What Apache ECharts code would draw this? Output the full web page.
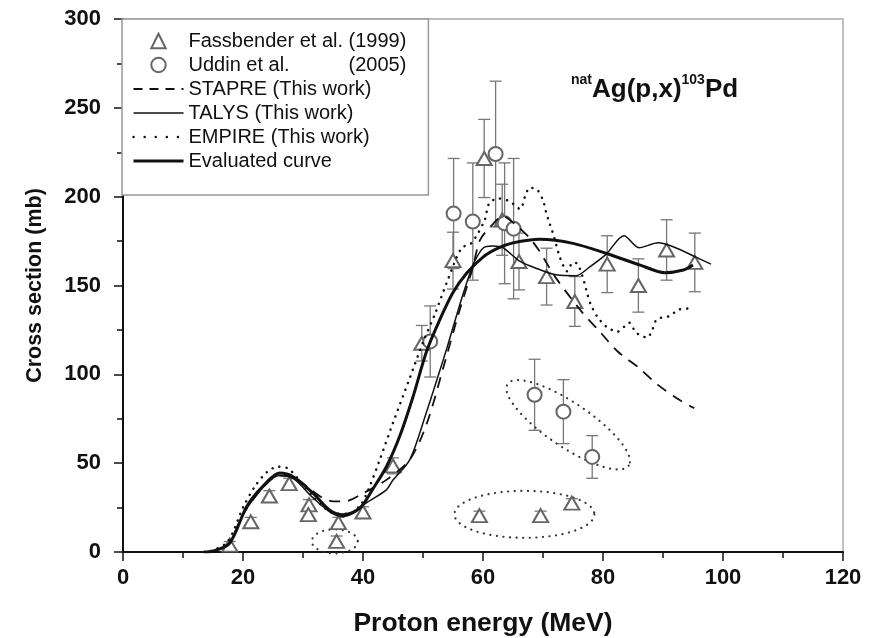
<!DOCTYPE html>
<html><head><meta charset="utf-8">
<script src="https://cdn.jsdelivr.net/npm/echarts@6/dist/echarts.min.js"></script>
<style>html,body{margin:0;padding:0;background:#fff}#chart{width:882px;height:638px}</style>
</head><body><div id="chart"></div>
<script>
const FONT = '"Liberation Sans", Arial, sans-serif';

// Axis ticks
const xTicks = [0, 20, 40, 60, 80, 100, 120];
const yTicks = [0, 50, 100, 150, 200, 250, 300];

const seriesNames = ['Fassbender et al. (1999)', 'Uddin et al. (2005)', 'STAPRE (This work)', 'TALYS (This work)', 'EMPIRE (This work)', 'Evaluated curve'];

// Fassbender et al. (1999)
const fassX = [17.8, 21.3, 24.4, 27.7, 31.0, 30.9, 35.9, 35.6, 40.0, 45.0, 49.8, 55.0, 60.2, 63.2, 66.0, 70.6, 75.3, 80.7, 85.9, 90.6, 95.3, 59.4, 69.6, 74.8];
const fassY = [3.9, 17.0, 31.5, 38.5, 26.5, 21.0, 16.5, 6.0, 22.5, 48.5, 117.5, 164, 221.5, 187, 163.5, 155, 141, 162, 150, 170, 163, 20.5, 20.5, 27.5];
const fassErr = [2, 2.5, 3, 3, 3, 3, 3, 3, 3, 4.5, 10, 16, 22, 20, 16, 16, 14, 16, 15, 17, 16.5, 2.5, 2.5, 2.5];

// Uddin et al. (2005)
const uddX = [51.2, 55.1, 58.3, 62.1, 63.6, 65.1, 68.6, 73.4, 78.2];
const uddY = [118.5, 190.5, 186, 224, 185, 182, 88.5, 79, 53.5];
const uddErr = [20, 31, 33, 41, 34, 39.5, 20, 18, 12];

// Model curves
const stapreX = [13.5, 15, 17.5, 20, 23, 26, 28.5, 31, 33, 35, 37, 40, 43.9, 47.8, 50.6, 53.4, 56, 58.3, 59.5, 61.5, 63.3, 65.5, 67.7, 69.4, 72, 76.6, 79.4, 82.4, 86, 89.1, 92.7, 95.2];
const stapreY = [0, 0.5, 4, 21, 35, 43, 42, 36, 31, 28.5, 28.5, 33, 40.6, 52, 72, 104, 135, 160, 175.6, 184, 189, 184, 177, 169.4, 155, 134.6, 124.3, 113, 103.6, 94.2, 85.7, 81];

const talysX = [13.5, 15, 17.5, 20, 23, 26, 28.5, 31.5, 34.5, 36.7, 38.5, 40.5, 43.9, 45, 47.8, 50.6, 52.7, 54, 56.2, 57.8, 58.5, 60, 61.6, 63.3, 66.1, 69.4, 72.2, 75.5, 77.8, 80.5, 83.5, 86, 89.2, 91.7, 95.6, 98];
const talysY = [0, 0.5, 4, 21, 35, 43, 41, 31, 22.5, 20, 22, 27.5, 35, 40.5, 52, 79, 101, 115, 140, 156.8, 163, 171, 172.2, 171.3, 163.7, 159, 156, 155.5, 160.5, 167.5, 178, 171.3, 174, 171.8, 165.8, 162];

const empireX = [13.5, 15, 17.5, 20, 22, 24, 25.8, 27.5, 29.5, 31.5, 33.5, 35.5, 37.5, 39.5, 41, 42.8, 45, 47.8, 50, 52, 54, 56.4, 58.1, 60.3, 61, 62.5, 64, 65, 66.2, 67, 67.8, 69, 70, 70.5, 71, 71.6, 72.2, 72.7, 73.4, 74, 75, 75.8, 76.9, 77.4, 78, 79, 80.5, 82.4, 84.4, 85.5, 87.4, 88.2, 89, 91, 92.7, 94.3];
const empireY = [0, 1, 6, 25, 37, 45, 48, 47, 40, 32, 25, 21.5, 21.5, 26, 36, 52, 72.7, 98, 118, 134, 152, 171, 174, 187, 196, 199, 198, 196, 193, 200, 205, 204, 198, 191.5, 186, 180, 173, 167, 161, 158, 163, 162, 151.6, 145, 139, 132.7, 127, 124, 129, 123.5, 120.7, 125, 131, 132.7, 136.5, 137];

const evalX = [13.5, 15, 17.8, 20.6, 23.3, 26.1, 28.3, 31.7, 34.4, 36.7, 39.4, 41.7, 43.9, 46.1, 48.3, 50.6, 52.7, 55, 57.3, 60, 62.5, 65, 69.5, 75, 80.6, 86.2, 90.3, 93.4, 95];
const evalY = [0, 0.5, 5, 25.5, 37, 44.5, 42.5, 33, 23.7, 21, 24.5, 35.8, 48, 65, 87, 113, 130, 146, 157, 166, 171, 174, 176, 173.7, 168, 161.5, 157.2, 158.7, 161.5];

// Dotted ellipse annotation centres (data units)
const ellipseX = [35.3, 74.2, 66.9];
const ellipseY = [6, 71.6, 21.2];

const zip = (xs, ys) => xs.map((x, i) => [x, ys[i]]);
const errData = (xs, ys, es) => xs.map((x, i) => [x, ys[i] - es[i], ys[i] + es[i]]);

function errRender(params, api) {
  const x = api.value(0), lo = api.value(1), hi = api.value(2);
  const pLo = api.coord([x, lo]), pHi = api.coord([x, hi]);
  const cw = 6;
  const st = { stroke: '#777', lineWidth: 1.3, fill: null };
  return { type: 'group', children: [
    { type: 'line', shape: { x1: pLo[0], y1: pLo[1], x2: pHi[0], y2: pHi[1] }, style: st },
    { type: 'line', shape: { x1: pLo[0] - cw, y1: pLo[1], x2: pLo[0] + cw, y2: pLo[1] }, style: st },
    { type: 'line', shape: { x1: pHi[0] - cw, y1: pHi[1], x2: pHi[0] + cw, y2: pHi[1] }, style: st }
  ]};
}

const ellipseShape = [{ rx: 23, ry: 12, rot: 0 }, { rx: 73, ry: 22, rot: 34 }, { rx: 70, ry: 23.5, rot: 0 }];
function ellRender(params, api) {
  const c = api.coord([api.value(0), api.value(1)]);
  const s = ellipseShape[params.dataIndex];
  const th = s.rot * Math.PI / 180;
  const pts = [];
  for (let k = 0; k <= 90; k++) {
    const t = k / 90 * 2 * Math.PI;
    pts.push([
      c[0] + s.rx * Math.cos(t) * Math.cos(th) - s.ry * Math.sin(t) * Math.sin(th),
      c[1] + s.rx * Math.cos(t) * Math.sin(th) + s.ry * Math.sin(t) * Math.cos(th)
    ]);
  }
  return { type: 'polyline', shape: { points: pts }, style: { stroke: '#333', lineWidth: 2.2, lineDash: [0.1, 6.5], lineCap: 'round', fill: null } };
}

const axisCommon = {
  type: 'value',
  nameLocation: 'middle',
  axisLine: { onZero: false, lineStyle: { color: '#111', width: 2 } },
  axisTick: { length: 9, lineStyle: { color: '#111', width: 1.5 } },
  minorTick: { show: true, splitNumber: 2, length: 6, lineStyle: { color: '#111', width: 1.5 } },
  splitLine: { show: false },
  minorSplitLine: { show: false }
};

const chart = echarts.init(document.getElementById('chart'), null, { renderer: 'canvas' });
chart.setOption({
  animation: false,
  backgroundColor: '#fff',
  title: {
    left: 566, top: 68,
    text: '{s|nat}{m|Ag(p,x)}{s|103}{m|Pd}',
    textStyle: { rich: {
      s: { fontSize: 14, fontWeight: 'bold', fontFamily: FONT, color: '#111', verticalAlign: 'top', lineHeight: 14 },
      m: { fontSize: 26, fontWeight: 'bold', fontFamily: FONT, color: '#111', lineHeight: 30, verticalAlign: 'bottom' }
    } }
  },
  grid: { left: 123, right: 39, top: 19, bottom: 86, containLabel: false, outerBoundsMode: 'none',
    show: true, borderColor: '#aaa', borderWidth: 1.5, backgroundColor: 'transparent' },
  xAxis: Object.assign({}, axisCommon, {
    min: xTicks[0], max: xTicks[xTicks.length - 1], interval: xTicks[1] - xTicks[0],
    name: 'Proton energy (MeV)', nameGap: 58,
    nameTextStyle: { fontFamily: FONT, fontSize: 26.5, fontWeight: 'bold', color: '#111' },
    axisLabel: { margin: 15, fontFamily: FONT, fontSize: 22, fontWeight: 'bold', color: '#111' }
  }),
  yAxis: Object.assign({}, axisCommon, {
    min: yTicks[0], max: yTicks[yTicks.length - 1], interval: yTicks[1] - yTicks[0],
    name: 'Cross section (mb)', nameGap: 77,
    nameTextStyle: { fontFamily: FONT, fontSize: 21.5, fontWeight: 'bold', color: '#111' },
    axisLabel: { margin: 22, fontFamily: FONT, fontSize: 22, fontWeight: 'bold', color: '#111' }
  }),
  legend: {
    left: 122, top: 19, orient: 'vertical', itemWidth: 50, itemHeight: 18, itemGap: 4,
    padding: [12, 22, 24, 10], backgroundColor: '#fff', borderColor: '#999', borderWidth: 1.5,
    selectedMode: false,
    textStyle: { fontFamily: FONT, fontSize: 20, color: '#111', lineHeight: 20,
      rich: { a: { width: 160, fontSize: 20, fontFamily: FONT, color: '#111' }, b: { fontSize: 20, fontFamily: FONT, color: '#111' } } },
    formatter: n => n === seriesNames[1] ? '{a|Uddin et al.}{b|(2005)}' : n,
    data: [
      { name: seriesNames[0] },
      { name: seriesNames[1] },
      { name: seriesNames[2], itemStyle: { opacity: 0 }, lineStyle: { width: 1.8, type: [9, 7] } },
      { name: seriesNames[3], itemStyle: { opacity: 0 }, lineStyle: { width: 1.5 } },
      { name: seriesNames[4], itemStyle: { opacity: 0 }, lineStyle: { width: 2.4, type: [0.1, 11], cap: 'round' } },
      { name: seriesNames[5], itemStyle: { opacity: 0 }, lineStyle: { width: 3 } }
    ]
  },
  series: [
    { type: 'custom', name: 'fassErr', renderItem: errRender, data: errData(fassX, fassY, fassErr), encode: { x: 0, y: [1, 2] }, z: 1, silent: true },
    { type: 'custom', name: 'uddErr', renderItem: errRender, data: errData(uddX, uddY, uddErr), encode: { x: 0, y: [1, 2] }, z: 1, silent: true },
    { type: 'custom', name: 'ellipses', renderItem: ellRender, data: zip(ellipseX, ellipseY), encode: { x: 0, y: 1 }, z: 1, silent: true },
    { name: seriesNames[0], type: 'line', data: zip(fassX, fassY), symbol: 'emptyTriangle', symbolSize: [15, 13], showSymbol: true,
      lineStyle: { width: 0 }, itemStyle: { color: '#666', borderWidth: 1.3 }, z: 3, silent: true },
    { name: seriesNames[1], type: 'line', data: zip(uddX, uddY), symbol: 'emptyCircle', symbolSize: 14, showSymbol: true,
      lineStyle: { width: 0 }, itemStyle: { color: '#666', borderWidth: 1.3 }, z: 3, silent: true },
    { name: seriesNames[2], type: 'line', data: zip(stapreX, stapreY), symbol: 'none', smooth: 0.3,
      itemStyle: { color: '#111' }, lineStyle: { color: '#111', width: 1.8, type: [11, 8] }, z: 4, silent: true },
    { name: seriesNames[3], type: 'line', data: zip(talysX, talysY), symbol: 'none', smooth: 0.3,
      itemStyle: { color: '#111' }, lineStyle: { color: '#111', width: 1.5 }, z: 4, silent: true },
    { name: seriesNames[4], type: 'line', data: zip(empireX, empireY), symbol: 'none', smooth: 0.3,
      itemStyle: { color: '#111' }, lineStyle: { color: '#111', width: 2.5, type: [0.1, 7], cap: 'round' }, z: 4, silent: true },
    { name: seriesNames[5], type: 'line', data: zip(evalX, evalY), symbol: 'none', smooth: 0.3,
      itemStyle: { color: '#111' }, lineStyle: { color: '#111', width: 3 }, z: 4, silent: true }
  ]
});
</script>
</body></html>
